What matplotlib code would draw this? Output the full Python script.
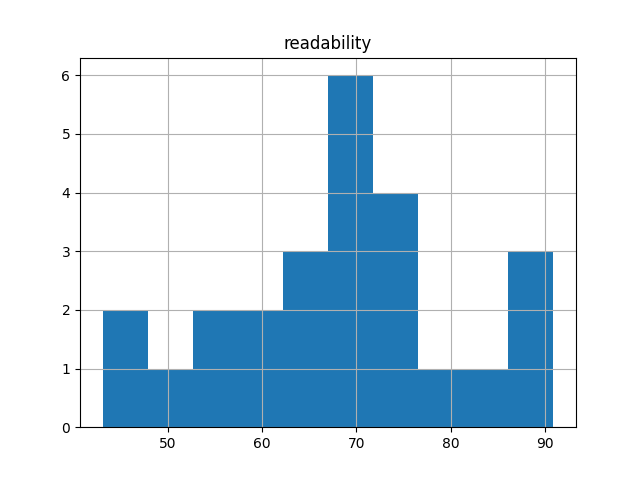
import matplotlib
matplotlib.use('Agg')
import matplotlib.pyplot as plt
import pandas as pd

# readability scores (25 documents)
readability = [43.1, 45.6,
               50.2,
               54.3, 56.1,
               58.9, 60.7,
               63.5, 64.8, 66.2,
               67.6, 68.4, 69.1, 69.9, 70.5, 71.2,
               72.3, 73.4, 74.6, 75.8,
               78.9,
               83.5,
               87.4, 89.2, 90.9]

df = pd.DataFrame({'readability': readability})

fig, ax = plt.subplots(figsize=(6.4, 4.8), dpi=100)
df.hist(column='readability', bins=10, ax=ax)

plt.savefig('out.png')
